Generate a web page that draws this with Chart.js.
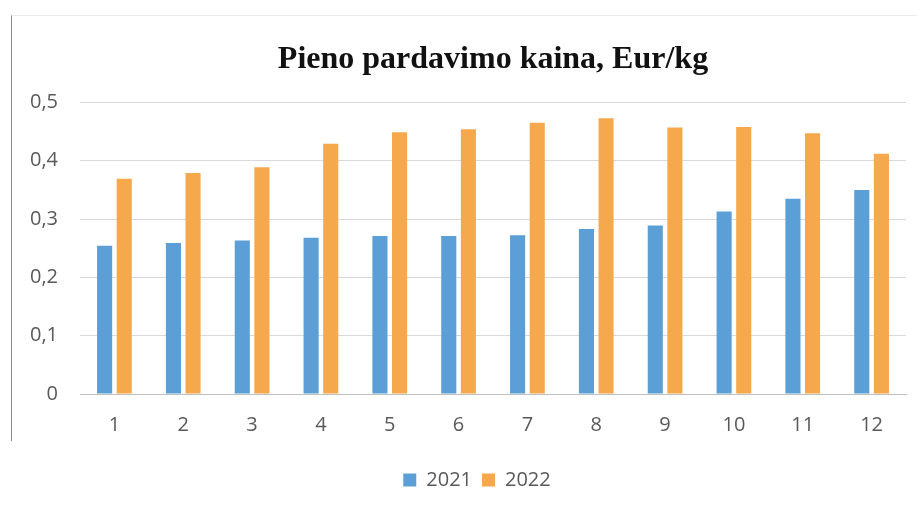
<!DOCTYPE html>
<html>
<head>
<meta charset="utf-8">
<script src="https://cdn.jsdelivr.net/npm/chart.js@4"></script>
<style>
  html, body { margin: 0; padding: 0; background: #ffffff; }
  #wrap { position: relative; width: 920px; height: 510px; }
  #frame { position: absolute; left: 11px; top: 15px; width: 905px; height: 425px;
           border-left: 1px solid #8a8a8a; border-top: 1px solid #ececec; pointer-events: none; }
  canvas { position: absolute; left: 0; top: 0; }
</style>
</head>
<body>
<div id="wrap">
  <canvas id="c" width="920" height="510"></canvas>
  <div id="frame"></div>
</div>
<script>
const chartTitle = "Pieno pardavimo kaina, Eur/kg";
const categories = ["1","2","3","4","5","6","7","8","9","10","11","12"];
const seriesNames = ["2021", "2022"];
const values2021 = [0.254, 0.259, 0.263, 0.268, 0.271, 0.271, 0.272, 0.283, 0.289, 0.313, 0.335, 0.350];
const values2022 = [0.369, 0.379, 0.389, 0.429, 0.449, 0.454, 0.465, 0.473, 0.457, 0.458, 0.447, 0.412];
const yTicks = [0, 0.1, 0.2, 0.3, 0.4, 0.5];

const blue = "#5b9fd6";
const orange = "#f5a84c";
const textColor = "#595959";
const sans = "'Open Sans', 'DejaVu Sans', sans-serif";

const legendShift = {
  id: "legendShift",
  afterLayout(chart) {
    const lg = chart.legend;
    if (lg) { lg.left -= 16; lg.right -= 16; }
  }
};

new Chart(document.getElementById("c"), {
  type: "bar",
  data: {
    labels: categories,
    datasets: [
      { label: seriesNames[0], data: values2021, backgroundColor: blue,
        categoryPercentage: 0.57, barPercentage: 0.77 },
      { label: seriesNames[1], data: values2022, backgroundColor: orange,
        categoryPercentage: 0.57, barPercentage: 0.77 }
    ]
  },
  plugins: [legendShift],
  options: {
    responsive: false,
    animation: false,
    devicePixelRatio: 1,
    layout: { padding: { left: 0, right: 14, top: 0, bottom: 10 } },
    plugins: {
      title: {
        display: true,
        fullSize: false,
        text: chartTitle,
        color: "#111111",
        font: { family: "'Liberation Serif', 'Times New Roman', serif", size: 32, weight: "bold" },
        padding: { top: 41, bottom: 23 }
      },
      legend: {
        display: true,
        fullSize: false,
        position: "bottom",
        labels: {
          color: textColor,
          font: { family: sans, size: 20 },
          boxWidth: 13, boxHeight: 13,
          padding: 10
        }
      },
      tooltip: { enabled: false }
    },
    scales: {
      x: {
        afterFit: (s) => { s.height = 66; },
        grid: { display: false, drawTicks: false },
        border: { display: true, color: "#bfbfbf", width: 1 },
        ticks: { color: textColor, font: { family: sans, size: 20 }, padding: 19 }
      },
      y: {
        min: 0, max: 0.5,
        afterFit: (s) => { s.width = 80; },
        afterBuildTicks: (s) => { s.ticks = yTicks.map(v => ({ value: v })); },
        grid: { color: "#d9d9d9", drawTicks: false },
        border: { display: false },
        ticks: {
          color: textColor,
          font: { family: sans, size: 20 },
          padding: 22,
          callback: (v) => String(v).replace(".", ",")
        }
      }
    }
  }
});
</script>
</body>
</html>
